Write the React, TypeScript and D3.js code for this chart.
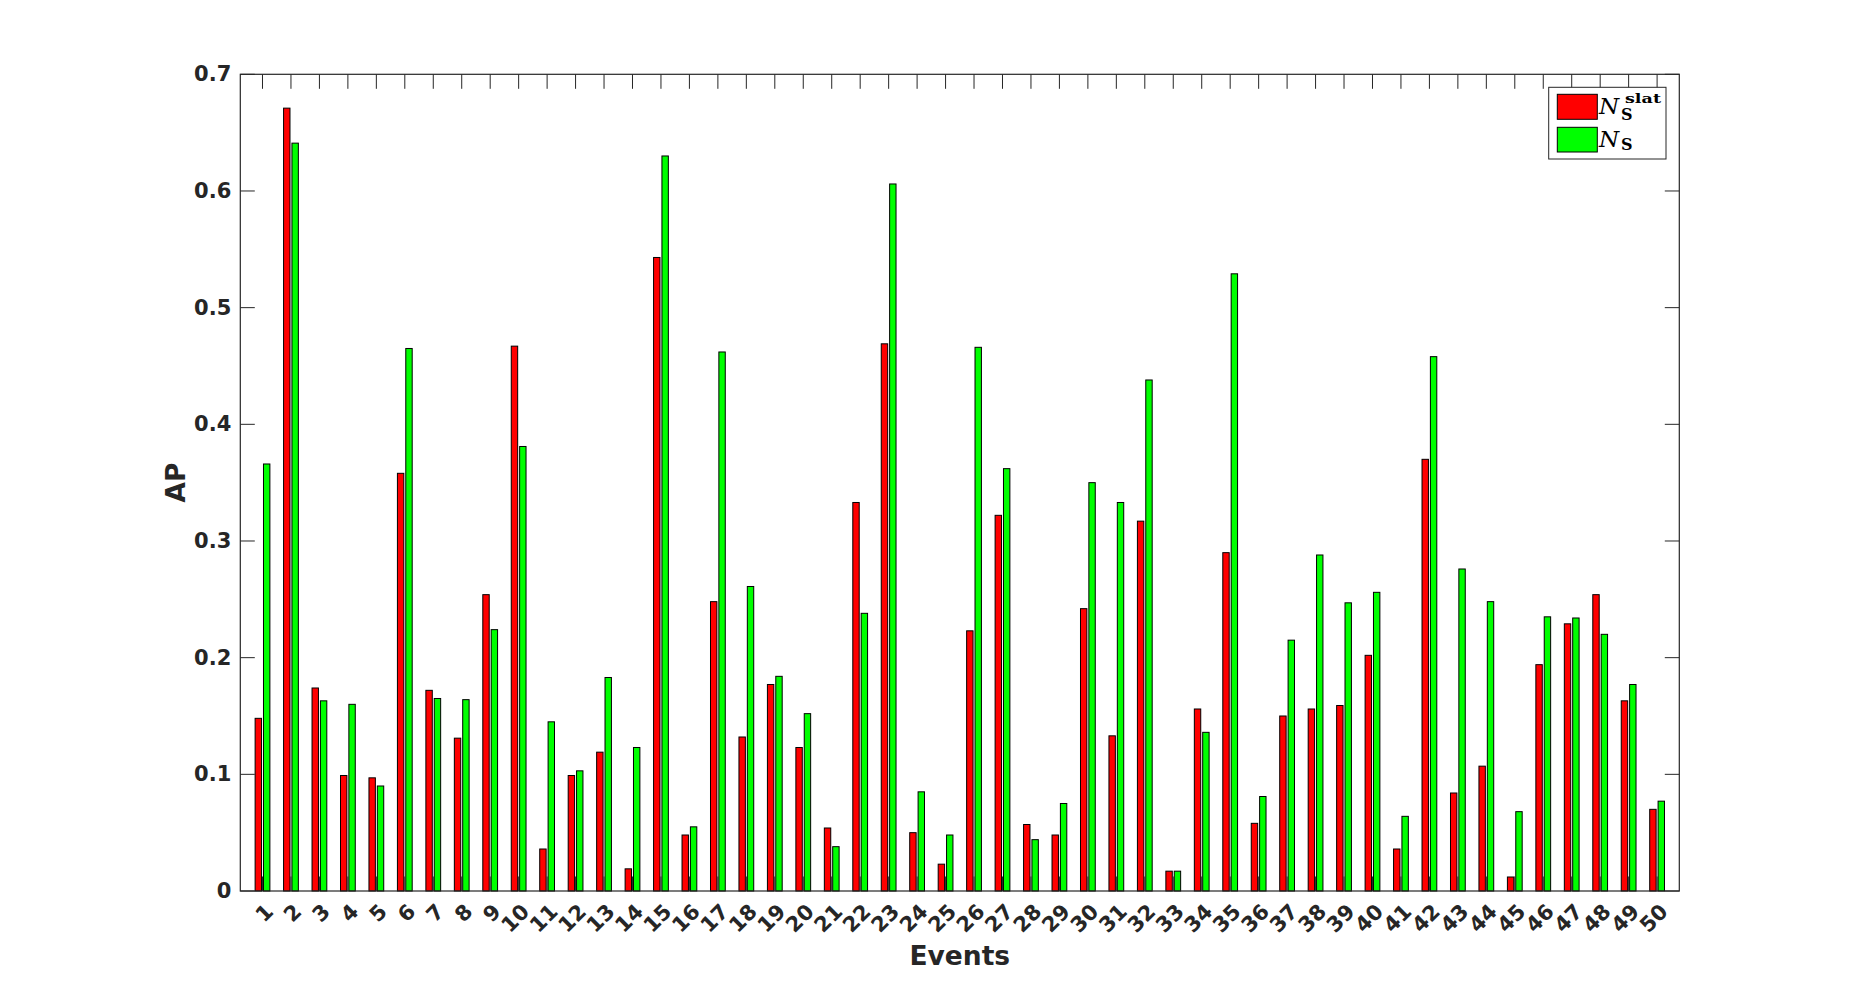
import React from "react";
import * as d3 from "d3";

const events: number[] = Array.from({ length: 50 }, (_, i) => i + 1);
const slatValues: number[] = [
  0.148, 0.671, 0.174, 0.099, 0.097, 0.358, 0.172, 0.131, 0.254, 0.467,
  0.036, 0.099, 0.119, 0.019, 0.543, 0.048, 0.248, 0.132, 0.177, 0.123,
  0.054, 0.333, 0.469, 0.050, 0.023, 0.223, 0.322, 0.057, 0.048, 0.242,
  0.133, 0.317, 0.017, 0.156, 0.290, 0.058, 0.150, 0.156, 0.159, 0.202,
  0.036, 0.370, 0.084, 0.107, 0.012, 0.194, 0.229, 0.254, 0.163, 0.070,
];
const nsValues: number[] = [
  0.366, 0.641, 0.163, 0.160, 0.090, 0.465, 0.165, 0.164, 0.224, 0.381,
  0.145, 0.103, 0.183, 0.123, 0.630, 0.055, 0.462, 0.261, 0.184, 0.152,
  0.038, 0.238, 0.606, 0.085, 0.048, 0.466, 0.362, 0.044, 0.075, 0.350,
  0.333, 0.438, 0.017, 0.136, 0.529, 0.081, 0.215, 0.288, 0.247, 0.256,
  0.064, 0.458, 0.276, 0.248, 0.068, 0.235, 0.234, 0.220, 0.177, 0.077,
];
const yTicks: number[] = [0, 0.1, 0.2, 0.3, 0.4, 0.5, 0.6, 0.7];
const yTickLabels: string[] = ["0", "0.1", "0.2", "0.3", "0.4", "0.5", "0.6", "0.7"];

const W = 1855;
const H = 1001;
const L = 240.3;
const R = 1679.3;
const T = 74.3;
const B = 891;
const AX = "#262626";
const TICK = 14.5;

export default function App() {
  const x = d3.scaleLinear().domain([0.22, 50.78]).range([L, R]);
  const y = d3.scaleLinear().domain([0, 0.7]).range([B, T]);
  const step = x(2) - x(1);
  const bw = step * 0.225;
  const off = step * 0.147;

  const series = [
    { values: slatValues, color: "#ff0000", dx: -off },
    { values: nsValues, color: "#00ff00", dx: off },
  ];

  return (
    <svg
      width={W}
      height={H}
      style={{ position: "absolute", left: 0, top: 0, background: "#fff" }}
      fontFamily="'DejaVu Sans', sans-serif"
    >
      <rect x={0} y={0} width={W} height={H} fill="#fff" />
      <rect x={L} y={T} width={R - L} height={B - T} fill="#fff" />
      {series.map((s, si) =>
        s.values.map((v, i) => (
          <rect
            key={`b${si}-${i}`}
            x={x(events[i]) + s.dx - bw / 2}
            y={y(v)}
            width={bw}
            height={B - y(v)}
            fill={s.color}
            stroke="#000"
            strokeWidth={1}
          />
        ))
      )}
      {events.map((e) => (
        <g key={`xt${e}`} stroke={AX} strokeWidth={1}>
          <line x1={x(e)} x2={x(e)} y1={B} y2={B - TICK} />
          <line x1={x(e)} x2={x(e)} y1={T} y2={T + TICK} />
        </g>
      ))}
      {yTicks.map((t) => (
        <g key={`yt${t}`} stroke={AX} strokeWidth={1}>
          <line x1={L} x2={L + TICK} y1={y(t)} y2={y(t)} />
          <line x1={R} x2={R - TICK} y1={y(t)} y2={y(t)} />
        </g>
      ))}
      <rect x={L} y={T} width={R - L} height={B - T} fill="none" stroke={AX} strokeWidth={1.2} />
      {yTicks.map((t, i) => (
        <text
          key={`yl${t}`}
          x={L - 9}
          y={y(t)}
          textAnchor="end"
          dominantBaseline="central"
          fontSize={21}
          fontWeight="bold"
          fill={AX}
        >
          {yTickLabels[i]}
        </text>
      ))}
      {events.map((e) => (
        <text
          key={`xl${e}`}
          transform={`translate(${x(e) + 12},${913}) rotate(-45)`}
          textAnchor="end"
          fontSize={21}
          fontWeight="bold"
          fill={AX}
        >
          {String(e)}
        </text>
      ))}
      <text
        x={(L + R) / 2}
        y={965}
        textAnchor="middle"
        fontSize={26.5}
        fontWeight="bold"
        fill={AX}
      >
        Events
      </text>
      <text
        transform={`translate(185,${(T + B) / 2}) rotate(-90)`}
        textAnchor="middle"
        fontSize={26.5}
        fontWeight="bold"
        fill={AX}
      >
        AP
      </text>
      <g>
        <rect x={1548.7} y={87.3} width={117.3} height={71.7} fill="#fff" stroke={AX} strokeWidth={1} />
        <rect x={1557.3} y={94.3} width={40} height={25} fill="#ff0000" stroke="#000" strokeWidth={1} />
        <rect x={1557.3} y={127.3} width={40} height={24.7} fill="#00ff00" stroke="#000" strokeWidth={1} />
        <text x={1599} y={113.5} fontFamily="'DejaVu Serif', serif" fontStyle="italic" fontSize={23} fill="#000">N</text>
        <text x={1621} y={120} fontFamily="'DejaVu Serif', serif" fontWeight="bold" fontSize={16} fill="#000">S</text>
        <text x={1625} y={103} fontFamily="'DejaVu Serif', serif" fontWeight="bold" fontSize={13} fill="#000" textLength={36} lengthAdjust="spacingAndGlyphs">slat</text>
        <text x={1599} y={147} fontFamily="'DejaVu Serif', serif" fontStyle="italic" fontSize={23} fill="#000">N</text>
        <text x={1621} y={150} fontFamily="'DejaVu Serif', serif" fontWeight="bold" fontSize={16} fill="#000">S</text>
      </g>
    </svg>
  );
}
